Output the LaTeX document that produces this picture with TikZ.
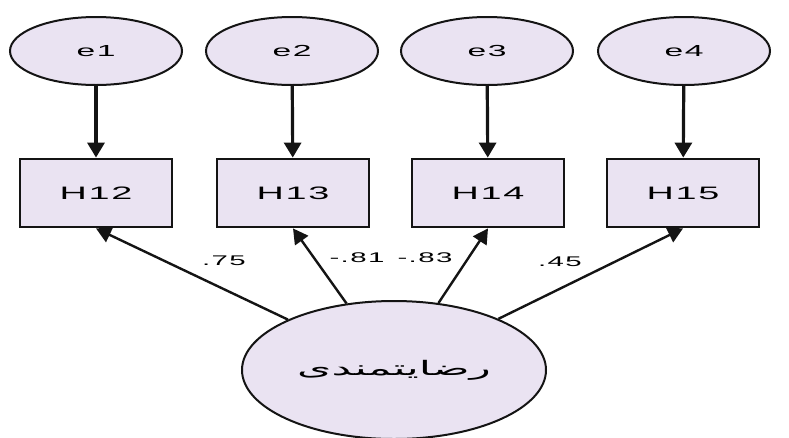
\documentclass[tikz,border=0pt]{standalone}
\usepackage{fontspec}
\setmainfont{Liberation Sans}
\newfontfamily\widefont[FakeStretch=2.1,LetterSpace=10]{Liberation Sans}
\newfontfamily\arabicfont[Script=Arabic,FakeStretch=2.2]{DejaVu Sans}
\TeXXeTstate=1
\usetikzlibrary{shapes.geometric,arrows.meta}
\definecolor{fillc}{RGB}{234,227,242}
\definecolor{linec}{RGB}{20,20,20}
\tikzset{
  errnode/.style={ellipse,draw=linec,line width=2pt,fill=fillc,minimum width=172pt,minimum height=68pt,inner sep=0pt,font=\widefont\fontsize{16}{16}\selectfont},
  obsbox/.style={rectangle,draw=linec,line width=2.8pt,fill=fillc,minimum width=152pt,minimum height=68pt,inner sep=0pt,font=\widefont\fontsize{18}{18}\selectfont},
  latent/.style={ellipse,draw=linec,line width=2pt,fill=fillc,minimum width=304pt,minimum height=138pt,inner sep=0pt},
  arr/.style={line width=3.2pt,draw=linec,-{Triangle[length=15pt,width=17pt]}},
  arrs/.style={line width=2.4pt,draw=linec,-{Triangle[length=15pt,width=16pt]}},
  wlab/.style={font=\widefont\fontsize{14}{14}\selectfont,inner sep=1pt}
}
\begin{document}
\begin{tikzpicture}[x=1pt,y=-1pt]
\useasboundingbox (0,0) rectangle (789,437);
\node[errnode] (e1) at (96,51) {e1};
\node[errnode] (e2) at (292,51) {e2};
\node[errnode] (e3) at (487,51) {e3};
\node[errnode] (e4) at (684,51) {e4};
\node[obsbox] (h12) at (96,193) {H12};
\node[obsbox] (h13) at (293,193) {H13};
\node[obsbox] (h14) at (488,193) {H14};
\node[obsbox] (h15) at (683,193) {H15};
\node[latent] (sat) at (394,370) {\arabicfont\fontsize{20}{20}\selectfont\beginR رضایتمندی\endR};
\draw[arr] (e1) -- (h12);
\draw[arr] (e2) -- (h13);
\draw[arr] (e3) -- (h14);
\draw[arr] (e4) -- (h15);
\draw[arrs] (sat) -- (h12.south);
\draw[arrs] (sat) -- (h13.south);
\draw[arrs] (sat) -- (h14.south);
\draw[arrs] (sat) -- (h15.south);
\node[wlab] (l1) at (224,261) {.75};
\node[wlab] (l2) at (357,258) {-.81};
\node[wlab] (l3) at (425,258) {-.83};
\node[wlab] (l4) at (560,262) {.45};
\end{tikzpicture}
\end{document}
